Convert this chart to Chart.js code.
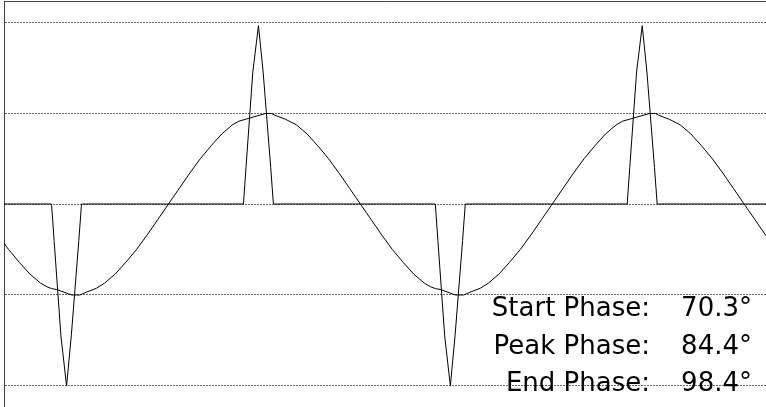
<!DOCTYPE html>
<html>
<head>
<meta charset="utf-8">
<title>Firing phase</title>
<script src="https://cdn.jsdelivr.net/npm/chart.js@4.4.1/dist/chart.umd.min.js"></script>
<style>
  html, body { margin: 0; padding: 0; background: #fff; }
  #wrap { width: 766px; height: 407px; }
</style>
</head>
<body>
<div id="wrap"><canvas id="phaseChart" width="766" height="407"></canvas></div>
<script>
  // ---- Data (x = phase of the supply sine, degrees) ----
  const sinePhase = [
    -160, -150, -140, -130, -120, -114, -109.6, -104.9, -90.8, -83.0, -78.3, -67.4,
    -60, -50, -40, -30, -20, -10, 0, 10, 20, 30, 40, 50, 60, 66, 73.4, 91.2, 96.8, 99.9,
    110, 120, 130, 140, 150, 160, 170, 180, 190, 200, 210, 220, 230, 240, 246,
    250.4, 255.1, 269.2, 277.0, 281.7, 292.6,
    300, 310, 320, 330, 340, 350, 360, 370, 380, 390, 400, 410, 420, 426,
    433.4, 451.2, 456.8, 459.9,
    470, 480, 490, 500, 510, 520, 530, 540, 550, 560, 570
  ];
  const sineValue = [
    -0.34, -0.50, -0.64, -0.77, -0.87, -0.91, -0.93, -0.94, -1.00, -1.00, -0.975, -0.925,
    -0.87, -0.77, -0.64, -0.50, -0.34, -0.17, 0, 0.17, 0.34, 0.50, 0.64, 0.77, 0.87, 0.91, 0.935, 0.995, 0.995, 0.975,
    0.93, 0.87, 0.77, 0.64, 0.50, 0.34, 0.17, 0, -0.17, -0.34, -0.50, -0.64, -0.77, -0.87, -0.91,
    -0.93, -0.94, -1.00, -1.00, -0.975, -0.925,
    -0.87, -0.77, -0.64, -0.50, -0.34, -0.17, 0, 0.17, 0.34, 0.50, 0.64, 0.77, 0.87, 0.91,
    0.935, 0.995, 0.995, 0.975,
    0.93, 0.87, 0.77, 0.64, 0.50, 0.34, 0.17, 0, -0.17, -0.34, -0.50
  ];

  const pulsePhase = [
    -160,
    -109.7, -107.3, -100.9, -95.6, -91.2, -84.1, -81.6,
    70.3, 72.7, 79.1, 84.4, 88.8, 95.9, 98.4,
    250.3, 252.7, 259.1, 264.4, 268.8, 275.9, 278.4,
    430.3, 432.7, 439.1, 444.4, 448.8, 455.9, 458.4,
    570
  ];
  const pulseValue = [
    0,
    0, -0.4, -1.45, -2.0, -1.45, -0.4, 0,
    0, 0.4, 1.45, 1.96, 1.45, 0.4, 0,
    0, -0.4, -1.45, -2.0, -1.45, -0.4, 0,
    0, 0.4, 1.45, 1.96, 1.45, 0.4, 0,
    0
  ];

  const yTicks = [-2, -1, 0, 1, 2];
  const phaseLabels = ["Start Phase:", "Peak Phase:", "End Phase:"];
  const phaseValues = ["70.3°", "84.4°", "98.4°"];

  const X_MIN = -154.3, X_MAX = 560.5;
  const Y_MIN = -2.231, Y_MAX = 2.231;

  const toPoints = (xs, ys) => xs.map((x, i) => ({ x, y: ys[i] }));

  // ---- Phase readout, bottom right of the plot ----
  const phaseText = {
    id: "phaseText",
    afterDatasetsDraw(chart) {
      const { ctx, chartArea } = chart;
      ctx.save();
      ctx.font = '26px "DejaVu Sans"';
      ctx.fillStyle = "#000";
      ctx.textAlign = "right";
      ctx.textBaseline = "alphabetic";
      phaseLabels.forEach((label, i) => {
        const y = 316 + i * 37.5;
        ctx.fillText(label, chartArea.right - 116, y);
        ctx.fillText(phaseValues[i], chartArea.right - 14, y);
      });
      ctx.restore();
    },
  };

  new Chart(document.getElementById("phaseChart"), {
    type: "line",
    data: {
      datasets: [
        {
          data: toPoints(sinePhase, sineValue),
          borderColor: "#000",
          borderWidth: 1,
          pointRadius: 0,
          tension: 0,
        },
        {
          data: toPoints(pulsePhase, pulseValue),
          borderColor: "#000",
          borderWidth: 1,
          pointRadius: 0,
          tension: 0,
        },
      ],
    },
    options: {
      responsive: false,
      animation: false,
      layout: { padding: { left: 4, top: 1, right: 0, bottom: 0 } },
      plugins: { legend: { display: false }, tooltip: { enabled: false } },
      scales: {
        x: {
          type: "linear",
          position: "top",
          min: X_MIN,
          max: X_MAX,
          ticks: { display: false },
          grid: { display: false, drawTicks: false, tickLength: 0 },
          border: { display: true, color: "#444", width: 1 },
        },
        y: {
          min: Y_MIN,
          max: Y_MAX,
          afterBuildTicks: (scale) => {
            scale.ticks = yTicks.map((v) => ({ value: v }));
          },
          ticks: { display: false },
          grid: { color: "#6a6a6a", lineWidth: 1, drawTicks: false, tickLength: 0 },
          border: { display: true, color: "#444", width: 1, dash: [2, 1] },
        },
      },
    },
    plugins: [phaseText],
  });
</script>
</body>
</html>
